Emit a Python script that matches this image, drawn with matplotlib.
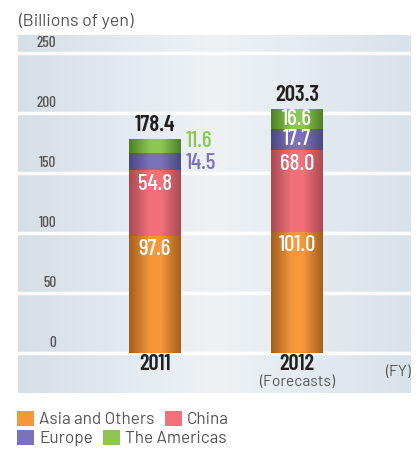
import numpy as np
import matplotlib
matplotlib.use('Agg')
import matplotlib.pyplot as plt
from matplotlib.colors import LinearSegmentedColormap
from matplotlib.patches import Patch

# Dane (miliardy jenów)
years = ['2011', '2012']
year_notes = ['', '(Forecasts)']
asia = [97.6, 101.0]
china = [54.8, 68.0]
europe = [14.5, 17.7]
americas = [11.6, 16.6]
totals = ['178.4', '203.3']
series_names = ['Asia and Others', 'China', 'Europe', 'The Americas']
yticks = [0, 50, 100, 150, 200, 250]

# kolory: (jasny, ciemny brzeg)
colors = {
    'Asia and Others': ('#F7973A', '#A3601F'),
    'China': ('#F27079', '#A94B55'),
    'Europe': ('#7B72B8', '#4B4785'),
    'The Americas': ('#8DC653', '#4E8126'),
}

narrow = ['Barlow Condensed', 'DejaVu Sans']
plain = ['Barlow', 'DejaVu Sans']

fig = plt.figure(figsize=(4.19, 4.5), dpi=100)
W, H = 419, 450
ax = fig.add_axes([18 / W, 1 - 393 / H, (411 - 18) / W, (393 - 35) / H])
xlim = (-0.965, 1.803)
ylim = (-33.6, 265)

# tło z gradientem
bg = LinearSegmentedColormap.from_list('bg', ['#D6DFE6', '#EEF2F5', '#D9E2E9'])
ax.imshow(np.linspace(0, 1, 256).reshape(1, -1), extent=[*xlim, *ylim],
          cmap=bg, aspect='auto', zorder=0)
for t in yticks:
    ax.axhline(t, color='white', lw=2.5, zorder=1)

x = np.arange(len(years))
width = 0.366


def gradient_bars(bars, bright, dark):
    cmap = LinearSegmentedColormap.from_list(
        'g', [(0, dark), (0.4, bright), (0.62, bright), (1, dark)])
    for p in bars:
        x0, y0 = p.get_x(), p.get_y()
        w, h = p.get_width(), p.get_height()
        im = ax.imshow(np.linspace(0, 1, 64).reshape(1, -1),
                       extent=[x0, x0 + w, y0, y0 + h], cmap=cmap,
                       aspect='auto', zorder=3)
        im.set_clip_path(p)


bottom = np.zeros(len(years))
segments = []
for name, vals in zip(series_names, [asia, china, europe, americas]):
    bright, dark = colors[name]
    bars = ax.bar(x, vals, width, bottom=bottom, color=bright, zorder=2,
                  linewidth=0)
    gradient_bars(bars, bright, dark)
    segments.append((name, np.array(vals), bottom.copy()))
    bottom = bottom + np.array(vals)

# etykiety wartości
vfs = 16.5
for name, vals, bots in segments:
    for i, (v, b) in enumerate(zip(vals, bots)):
        txt = f'{v:.1f}'
        if name in ('Asia and Others', 'China'):
            ax.text(x[i], b + v - 3.0, txt, ha='center', va='top', color='white',
                    fontsize=vfs, family=narrow, fontweight=500, zorder=5)
        elif i == 0:
            # 2011 - małe segmenty opisane obok słupka
            ypos = b + v / 2 - 1 if name == 'Europe' else b + v - 2
            ax.text(x[i] + width / 2 + 0.035, ypos, txt, ha='left', va='center',
                    color=colors[name][0], fontsize=vfs, family=narrow,
                    fontweight=500, zorder=5)
        else:
            ax.text(x[i], b + v / 2, txt, ha='center', va='center', color='white',
                    fontsize=vfs, family=narrow, fontweight=500, zorder=5)

for i, t in enumerate(totals):
    ax.text(x[i], bottom[i] + 3.0, t, ha='center', va='bottom', color='#231F20',
            fontsize=16.5, family=narrow, fontweight=600, zorder=5)

# oś Y - etykiety nad liniami siatki
for t in yticks:
    ax.text(38 / 393, t + 2.5, str(t), transform=ax.get_yaxis_transform(),
            ha='right', va='bottom', color='#555555', fontsize=11, family=narrow,
            fontweight=500)

# oś X
for i, (yr, note) in enumerate(zip(years, year_notes)):
    ax.text(x[i], -9, yr, ha='center', va='center', color='#231F20',
            fontsize=16, family=narrow, fontweight=600)
    if note:
        ax.text(x[i], -24.5, note, ha='center', va='center', color='#555555',
                fontsize=11.2, family=plain)
ax.text(0.999, -16, '(FY)', transform=ax.get_yaxis_transform(), ha='right',
        va='center', color='#555555', fontsize=11.2, family=plain)

ax.set_xlim(*xlim)
ax.set_ylim(*ylim)
ax.axis('off')

fig.text(18 / W, 1 - 21 / H, '(Billions of yen)', ha='left', va='center',
         color='#555555', fontsize=12.8, family=plain)

# legenda w dwóch wierszach
rows = [['Asia and Others', 'China'], ['Europe', 'The Americas']]
for r, row in enumerate(rows):
    handles = [Patch(facecolor=colors[n][0], edgecolor='none', label=n) for n in row]
    leg = fig.legend(handles=handles, loc='upper left',
                     bbox_to_anchor=(17 / W, 1 - (411 + 19 * r) / H),
                     ncol=2, frameon=False, borderpad=0, borderaxespad=0,
                     handlelength=1.0, handleheight=1.0, handletextpad=0.3,
                     columnspacing=0.6, prop={'family': plain, 'size': 12.3})
    for t in leg.get_texts():
        t.set_color('#555555')

plt.savefig('out.png', dpi=100)
